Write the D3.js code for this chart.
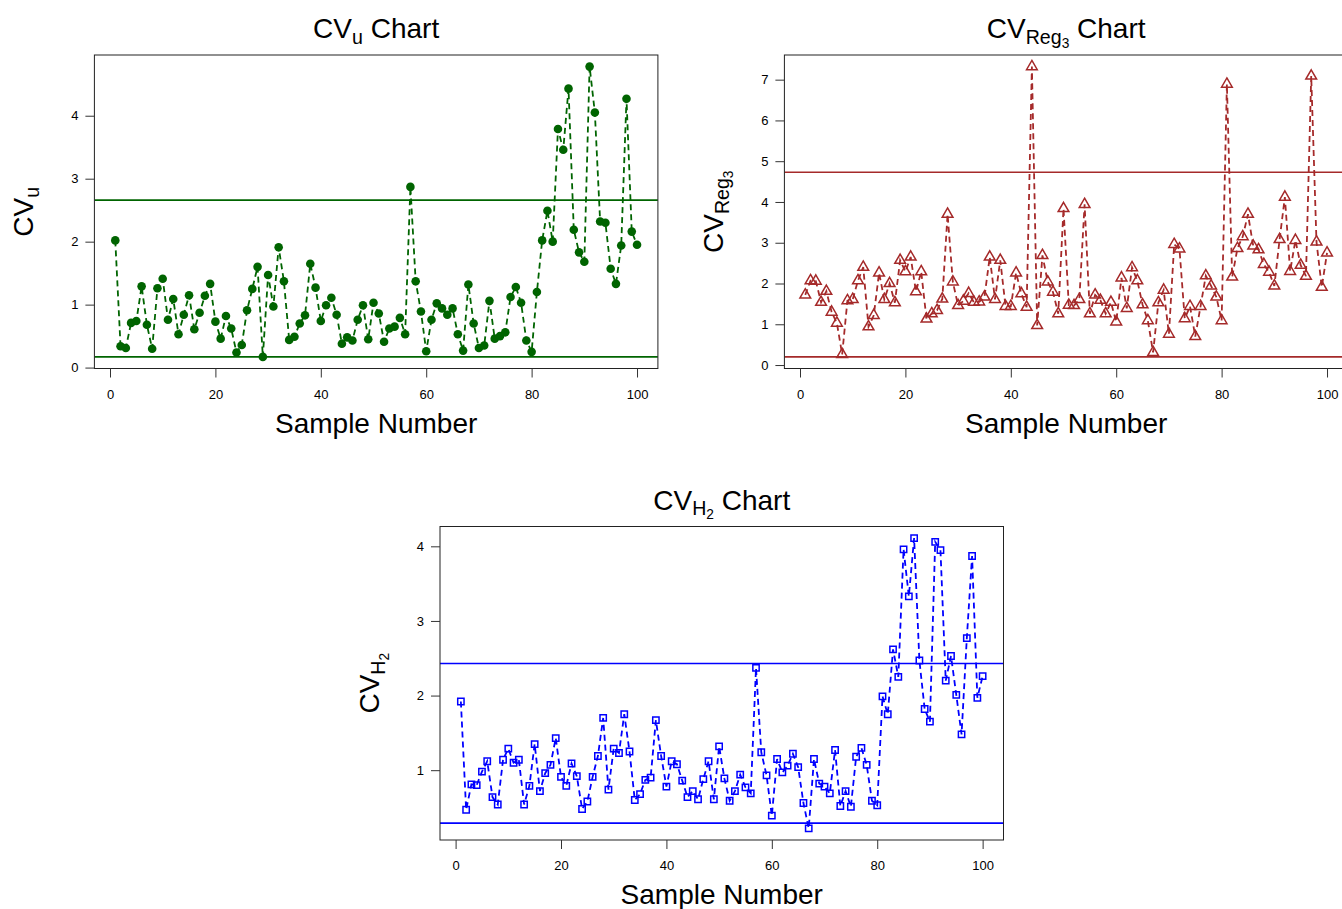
<!DOCTYPE html>
<html>
<head>
<meta charset="utf-8">
<script src="https://cdn.jsdelivr.net/npm/d3@7/dist/d3.min.js"></script>
<style>
  body { margin: 0; background: #fff; }
  text { font-family: "Liberation Sans", Arial, Helvetica, sans-serif; fill: #000; }
</style>
</head>
<body>
<svg id="chart" width="1342" height="909"></svg>
<script>
// sample index on the x axis
var sampleNumbers = d3.range(1, 101);

var cvU = [2.02, 0.34, 0.31, 0.71, 0.74, 1.29, 0.68, 0.30, 1.26, 1.41,
  0.76, 1.09, 0.53, 0.84, 1.15, 0.61, 0.87, 1.14, 1.33, 0.73,
  0.46, 0.82, 0.62, 0.24, 0.36, 0.91, 1.25, 1.60, 0.17, 1.47,
  0.97, 1.91, 1.37, 0.44, 0.49, 0.70, 0.83, 1.65, 1.27, 0.74,
  0.99, 1.11, 0.84, 0.38, 0.48, 0.43, 0.76, 0.99, 0.45, 1.03,
  0.86, 0.41, 0.62, 0.65, 0.79, 0.53, 2.87, 1.37, 0.89, 0.26,
  0.76, 1.02, 0.94, 0.84, 0.94, 0.53, 0.27, 1.32, 0.70, 0.31,
  0.35, 1.06, 0.46, 0.50, 0.56, 1.12, 1.28, 1.03, 0.43, 0.25,
  1.20, 2.02, 2.49, 2.00, 3.79, 3.46, 4.43, 2.19, 1.83, 1.68,
  4.78, 4.05, 2.32, 2.30, 1.57, 1.33, 1.94, 4.27, 2.16, 1.95];

var cvReg3 = [1.72, 2.07, 2.06, 1.54, 1.81, 1.30, 1.03, 0.26, 1.58, 1.61,
  2.07, 2.40, 0.94, 1.22, 2.26, 1.61, 2.00, 1.53, 2.57, 2.29,
  2.65, 1.80, 2.29, 1.13, 1.26, 1.34, 1.62, 3.70, 2.04, 1.46,
  1.57, 1.76, 1.54, 1.55, 1.67, 2.65, 1.61, 2.57, 1.44, 1.44,
  2.26, 1.75, 1.42, 7.32, 0.97, 2.69, 2.04, 1.79, 1.26, 3.84,
  1.47, 1.46, 1.61, 3.94, 1.26, 1.72, 1.59, 1.26, 1.54, 1.06,
  2.14, 1.39, 2.39, 2.07, 1.48, 1.09, 0.31, 1.53, 1.84, 0.76,
  2.96, 2.85, 1.14, 1.44, 0.70, 1.44, 2.19, 1.94, 1.67, 1.09,
  6.89, 2.16, 2.86, 3.15, 3.70, 2.92, 2.83, 2.47, 2.28, 1.94,
  3.08, 4.12, 2.30, 3.06, 2.45, 2.18, 7.09, 3.02, 1.91, 2.75];

var cvH2 = [1.92, 0.47, 0.81, 0.80, 0.98, 1.12, 0.64, 0.54, 1.14, 1.29,
  1.10, 1.14, 0.54, 0.79, 1.35, 0.72, 0.96, 1.07, 1.43, 0.91,
  0.79, 1.09, 0.92, 0.48, 0.58, 0.91, 1.19, 1.70, 0.74, 1.29,
  1.23, 1.75, 1.25, 0.60, 0.68, 0.87, 0.90, 1.67, 1.19, 0.78,
  1.12, 1.08, 0.86, 0.64, 0.72, 0.61, 0.88, 1.12, 0.61, 1.32,
  0.89, 0.59, 0.72, 0.94, 0.77, 0.69, 2.37, 1.24, 0.93, 0.39,
  1.15, 0.97, 1.06, 1.22, 1.04, 0.56, 0.22, 1.15, 0.82, 0.78,
  0.69, 1.27, 0.52, 0.72, 0.51, 1.18, 1.30, 1.07, 0.59, 0.53,
  1.99, 1.75, 2.62, 2.25, 3.96, 3.33, 4.11, 2.47, 1.82, 1.65,
  4.06, 3.95, 2.20, 2.53, 2.01, 1.48, 2.77, 3.87, 1.97, 2.26];

// control limits: CVu, CVReg3, CVH2
var uclValues = [2.66, 4.73, 2.43];
var lclValues = [0.17, 0.20, 0.29];

var xTicks = [0, 20, 40, 60, 80, 100];
var yTicksU = [0, 1, 2, 3, 4];
var yTicksReg3 = [0, 1, 2, 3, 4, 5, 6, 7];
var yTicksH2 = [1, 2, 3, 4];

var svg = d3.select("#chart");
svg.append("rect").attr("width", 1342).attr("height", 909).attr("fill", "#fff");

var W = 563.5, H = 313.5;

var panels = [
  { left: 94.4, top: 55, values: cvU, ucl: uclValues[0], lcl: lclValues[0], yTicks: yTicksU,
    color: "#006400", shape: "circle",
    name: [{ t: "CV" }, { t: "u", sub: 1 }] },
  { left: 784.4, top: 55, values: cvReg3, ucl: uclValues[1], lcl: lclValues[1], yTicks: yTicksReg3,
    color: "#A52A2A", shape: "triangle",
    name: [{ t: "CV" }, { t: "Reg", sub: 1 }, { t: "3", sub: 2 }] },
  { left: 440, top: 526.5, values: cvH2, ucl: uclValues[2], lcl: lclValues[2], yTicks: yTicksH2,
    color: "#0000FF", shape: "square",
    name: [{ t: "CV" }, { t: "H", sub: 1 }, { t: "2", sub: 2 }] }
];

// plotmath-like sub/subscripts built with tspans
function richText(sel, parts, size) {
  var sizes = [size, size * 0.7, size * 0.49];
  var offs = [0, size * 0.2, size * 0.2 + size * 0.14];
  var cur = 0;
  parts.forEach(function (p) {
    var lv = p.sub || 0;
    sel.append("tspan")
      .attr("dy", offs[lv] - offs[cur])
      .attr("font-size", sizes[lv])
      .text(p.t);
    cur = lv;
  });
}

function xpad(lo, hi) {
  var p = (hi - lo) * 0.04;
  return [lo - p, hi + p];
}

panels.forEach(function (pn) {
  var g = svg.append("g").attr("transform", "translate(" + pn.left + "," + pn.top + ")");

  var x = d3.scaleLinear()
    .domain(xpad(d3.min(sampleNumbers), d3.max(sampleNumbers)))
    .range([0, W]);
  var all = pn.values.concat([pn.ucl, pn.lcl]);
  var y = d3.scaleLinear()
    .domain(xpad(d3.min(all), d3.max(all)))
    .range([H, 0]);

  var clipId = "clip" + pn.shape;
  g.append("clipPath").attr("id", clipId)
    .append("rect").attr("width", W).attr("height", H);

  var plot = g.append("g").attr("clip-path", "url(#" + clipId + ")");

  // control limit lines
  [pn.ucl, pn.lcl].forEach(function (v) {
    plot.append("line")
      .attr("x1", 0).attr("x2", W)
      .attr("y1", y(v)).attr("y2", y(v))
      .attr("stroke", pn.color).attr("stroke-width", 1.6);
  });

  var line = d3.line()
    .x(function (d, i) { return x(sampleNumbers[i]); })
    .y(function (d) { return y(d); });

  plot.append("path")
    .datum(pn.values)
    .attr("d", line)
    .attr("fill", "none")
    .attr("stroke", pn.color)
    .attr("stroke-width", 1.8)
    .attr("stroke-dasharray", "6,4");

  var pts = plot.selectAll(".pt").data(pn.values).enter();
  if (pn.shape === "circle") {
    pts.append("circle")
      .attr("cx", function (d, i) { return x(sampleNumbers[i]); })
      .attr("cy", function (d) { return y(d); })
      .attr("r", 4.3)
      .attr("fill", pn.color);
  } else {
    var sym = d3.symbol()
      .type(pn.shape === "triangle" ? d3.symbolTriangle : d3.symbolSquare)
      .size(pn.shape === "triangle" ? 50 : 40);
    pts.append("path")
      .attr("d", sym)
      .attr("transform", function (d, i) {
        return "translate(" + x(sampleNumbers[i]) + "," + y(d) + ")";
      })
      .attr("fill", "none")
      .attr("stroke", pn.color)
      .attr("stroke-width", 1.5);
  }

  // box
  g.append("rect")
    .attr("width", W).attr("height", H)
    .attr("fill", "none").attr("stroke", "#222").attr("stroke-width", 1);

  var xa = g.append("g").attr("transform", "translate(0," + H + ")")
    .call(d3.axisBottom(x).tickValues(xTicks).tickSize(9).tickSizeOuter(0).tickPadding(12));
  var ya = g.append("g")
    .call(d3.axisLeft(y).tickValues(pn.yTicks).tickSize(9).tickSizeOuter(0).tickPadding(7)
      .tickFormat(d3.format("d")));
  [xa, ya].forEach(function (a) {
    a.attr("font-family", null).attr("font-size", 13);
    a.select(".domain").remove();
    a.selectAll("line").attr("stroke", "#333");
    a.selectAll("text").attr("fill", "#000");
  });

  // title
  var tt = g.append("text")
    .attr("x", W / 2).attr("y", -17)
    .attr("text-anchor", "middle");
  richText(tt, pn.name.concat([{ t: " Chart" }]), 28);

  // x axis title
  g.append("text")
    .attr("x", W / 2).attr("y", H + 64)
    .attr("text-anchor", "middle")
    .attr("font-size", 28)
    .text("Sample Number");

  // y axis title
  var yl = g.append("text")
    .attr("transform", "translate(-61," + (H / 2) + ") rotate(-90)")
    .attr("text-anchor", "middle");
  richText(yl, pn.name, 28);
});
</script>
</body>
</html>
